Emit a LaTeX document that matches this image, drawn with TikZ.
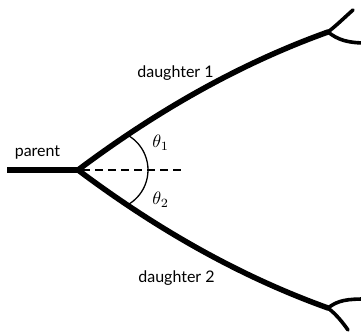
\documentclass[tikz,border=0pt]{standalone}
\usepackage{fontspec}
\setmainfont{Lato}
\begin{document}
\begin{tikzpicture}[x=1pt,y=-1pt,
  thick branch/.style={line width=5.5pt},
  twig/.style={line width=3.6pt},
  lbl/.style={font=\fontsize{16}{18}\selectfont, inner sep=0pt, anchor=base},
  ang/.style={scale=1.8, inner sep=0pt, anchor=base west}]
\useasboundingbox (0,0) rectangle (361,336);
\coordinate (p0) at (7,170);
\coordinate (bp) at (78,170);
\coordinate (j1) at (328,32);
\coordinate (j2) at (328,308);
\coordinate (u1) at (353,10);
\coordinate (r1) at (366,43);
\coordinate (d2) at (348,330);
\coordinate (r2) at (366,299);
\coordinate (dashend) at (183,170);
% parent
\draw[thick branch] (p0) -- (80,170);
% daughters
\draw[thick branch, line cap=round] (bp) .. controls (160,108.5) and (243,62.5) .. (j1);
\draw[thick branch, line cap=round] (bp) .. controls (160,231.5) and (243,277.5) .. (j2);
% twigs
\draw[twig, line cap=round] (j1) .. controls (337,25) and (345,17) .. (u1);
\draw[twig] (j1) .. controls (338,40) and (348,43) .. (r1);
\draw[twig, line cap=round] (j2) .. controls (337,315) and (343,323) .. (d2);
\draw[twig] (j2) .. controls (338,300) and (348,299) .. (r2);
% dashed axis and angle arc
\draw[line width=1.3pt, dash pattern=on 8pt off 5pt, dash phase=-4pt] (bp) -- (dashend);
\draw[line width=1.3pt] (108,170) ++(62:40) arc[start angle=62, end angle=-62, radius=40];
% labels
\node[lbl] (parent) at (37.5,157) {parent};
\node[lbl] (d1) at (175.5,78) {daughter 1};
\node[lbl] (d2l) at (176.5,283) {daughter 2};
\node[ang] (t1) at (152,148) {$\theta_1$};
\node[ang] (t2) at (152,205) {$\theta_2$};
\end{tikzpicture}
\end{document}
